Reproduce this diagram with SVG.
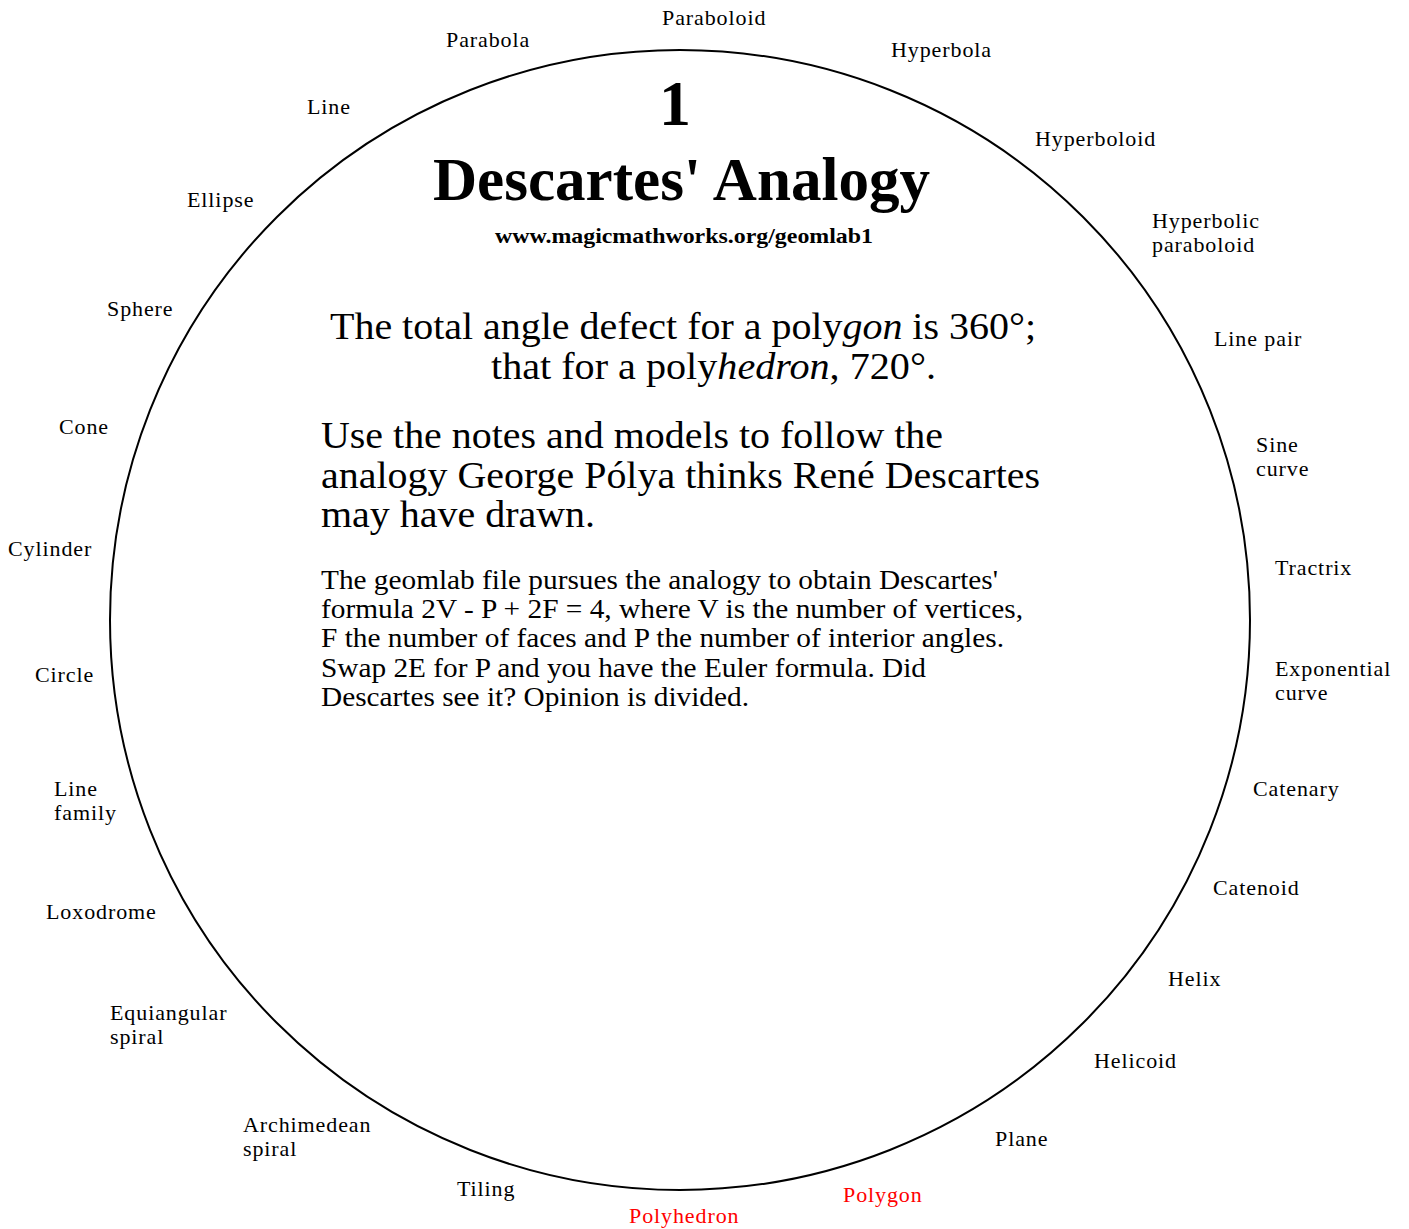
<svg xmlns="http://www.w3.org/2000/svg" width="1409" height="1229" viewBox="0 0 1409 1229">
<style>
text { font-family: "Liberation Serif", "Times New Roman", serif; fill: #000; }
.lab { font-size: 22px; letter-spacing: 0.9px; }
.red { fill: #ff0000; }
.title { font-weight: bold; }
.big { font-size: 38px; }
.mid { font-size: 27px; }
</style>
<rect x="0" y="0" width="1409" height="1229" fill="#ffffff"/>
<g id="connectors">
  <circle cx="680" cy="620" r="570" fill="none" stroke="#000" stroke-width="2"/>
</g>
<g id="header">
  <text class="title" x="675" y="125" font-size="64" text-anchor="middle">1</text>
  <text class="title" x="433" y="200" font-size="62" textLength="497" lengthAdjust="spacingAndGlyphs">Descartes' Analogy</text>
  <text class="title" x="495" y="243" font-size="22" textLength="378" lengthAdjust="spacingAndGlyphs">www.magicmathworks.org/geomlab1</text>
</g>
<g id="body">
  <text class="big" x="330" y="339" textLength="706" lengthAdjust="spacingAndGlyphs">The total angle defect for a poly<tspan font-style="italic">gon</tspan> is 360°;</text>
  <text class="big" x="491" y="379" textLength="445" lengthAdjust="spacingAndGlyphs">that for a poly<tspan font-style="italic">hedron</tspan>, 720°.</text>
  <text class="big" x="321" y="448" textLength="622" lengthAdjust="spacingAndGlyphs">Use the notes and models to follow the</text>
  <text class="big" x="321" y="488" textLength="719" lengthAdjust="spacingAndGlyphs">analogy George Pólya thinks René Descartes</text>
  <text class="big" x="321" y="527" textLength="274" lengthAdjust="spacingAndGlyphs">may have drawn.</text>
  <text class="mid" x="321" y="589" textLength="677" lengthAdjust="spacingAndGlyphs">The geomlab file pursues the analogy to obtain Descartes'</text>
  <text class="mid" x="321" y="618" textLength="702" lengthAdjust="spacingAndGlyphs">formula 2V - P + 2F = 4, where V is the number of vertices,</text>
  <text class="mid" x="321" y="647" textLength="683" lengthAdjust="spacingAndGlyphs">F the number of faces and P the number of interior angles.</text>
  <text class="mid" x="321" y="677" textLength="605" lengthAdjust="spacingAndGlyphs">Swap 2E for P and you have the Euler formula. Did</text>
  <text class="mid" x="321" y="706" textLength="428" lengthAdjust="spacingAndGlyphs">Descartes see it? Opinion is divided.</text>
</g>
<g id="n-paraboloid"><text class="lab" x="662" y="25">Paraboloid</text></g>
<g id="n-parabola"><text class="lab" x="446" y="47">Parabola</text></g>
<g id="n-hyperbola"><text class="lab" x="891" y="57">Hyperbola</text></g>
<g id="n-line"><text class="lab" x="307" y="114">Line</text></g>
<g id="n-hyperboloid"><text class="lab" x="1035" y="146">Hyperboloid</text></g>
<g id="n-ellipse"><text class="lab" x="187" y="207">Ellipse</text></g>
<g id="n-hyperbolic-paraboloid"><text class="lab" x="1152" y="228">Hyperbolic</text><text class="lab" x="1152" y="252">paraboloid</text></g>
<g id="n-sphere"><text class="lab" x="107" y="316">Sphere</text></g>
<g id="n-line-pair"><text class="lab" x="1214" y="346">Line pair</text></g>
<g id="n-cone"><text class="lab" x="59" y="434">Cone</text></g>
<g id="n-sine-curve"><text class="lab" x="1256" y="452">Sine</text><text class="lab" x="1256" y="476">curve</text></g>
<g id="n-cylinder"><text class="lab" x="8" y="556">Cylinder</text></g>
<g id="n-tractrix"><text class="lab" x="1275" y="575">Tractrix</text></g>
<g id="n-circle"><text class="lab" x="35" y="682">Circle</text></g>
<g id="n-exponential-curve"><text class="lab" x="1275" y="676">Exponential</text><text class="lab" x="1275" y="700">curve</text></g>
<g id="n-line-family"><text class="lab" x="54" y="796">Line</text><text class="lab" x="54" y="820">family</text></g>
<g id="n-catenary"><text class="lab" x="1253" y="796">Catenary</text></g>
<g id="n-loxodrome"><text class="lab" x="46" y="919">Loxodrome</text></g>
<g id="n-catenoid"><text class="lab" x="1213" y="895">Catenoid</text></g>
<g id="n-equiangular-spiral"><text class="lab" x="110" y="1020">Equiangular</text><text class="lab" x="110" y="1044">spiral</text></g>
<g id="n-helix"><text class="lab" x="1168" y="986">Helix</text></g>
<g id="n-helicoid"><text class="lab" x="1094" y="1068">Helicoid</text></g>
<g id="n-archimedean-spiral"><text class="lab" x="243" y="1132">Archimedean</text><text class="lab" x="243" y="1156">spiral</text></g>
<g id="n-plane"><text class="lab" x="995" y="1146">Plane</text></g>
<g id="n-tiling"><text class="lab" x="457" y="1196">Tiling</text></g>
<g id="n-polygon"><text class="lab red" x="843" y="1202">Polygon</text></g>
<g id="n-polyhedron"><text class="lab red" x="629" y="1223">Polyhedron</text></g>
</svg>
